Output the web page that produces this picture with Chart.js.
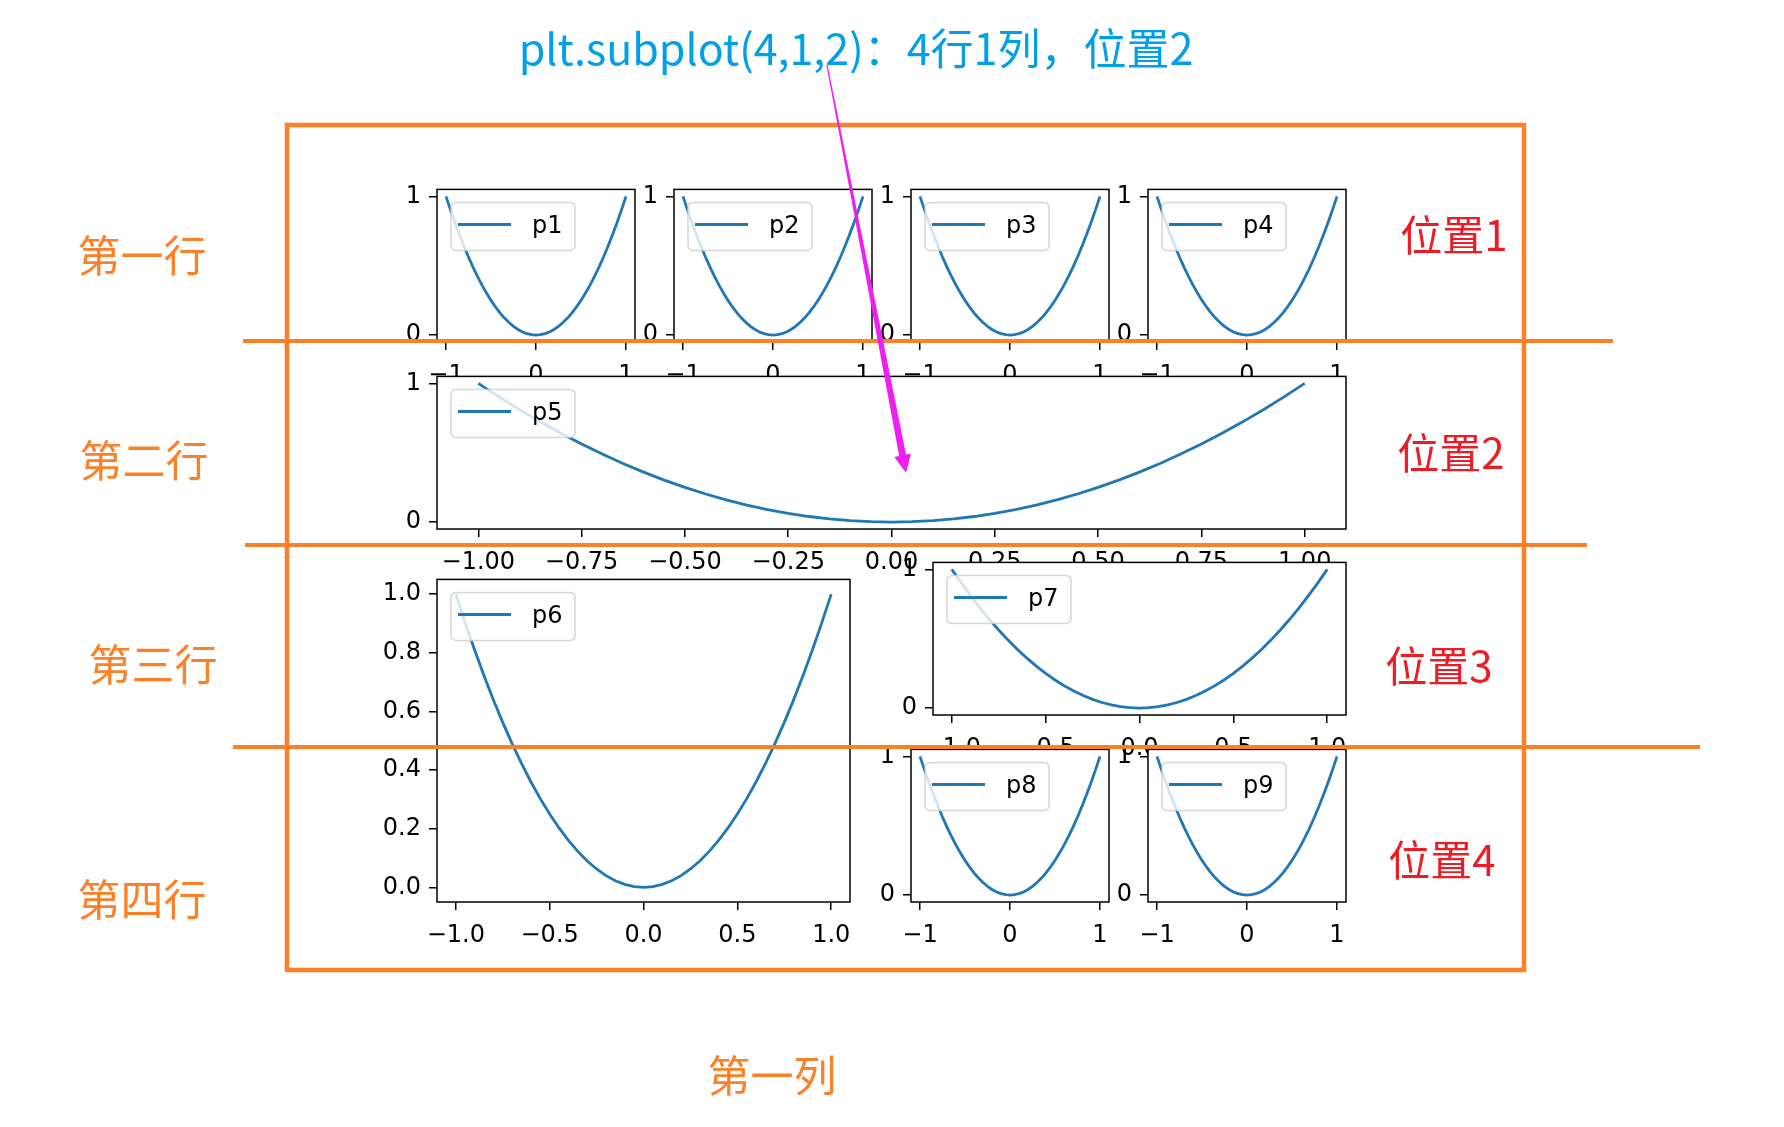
<!DOCTYPE html>
<html>
<head>
<meta charset="utf-8">
<script src="https://cdn.jsdelivr.net/npm/chart.js@4.4.1/dist/chart.umd.min.js"></script>
<style>
  html, body { margin: 0; padding: 0; background: #fff; }
  #page { position: relative; width: 1784px; height: 1127px; overflow: hidden; background: #fff; }
  #page canvas { position: absolute; }
  .note { position: absolute; white-space: nowrap; line-height: 1; font-family: "Noto Sans CJK SC", sans-serif; transform: translate(-50%, -50%); }
  #marks { position: absolute; left: 0; top: 0; }
</style>
</head>
<body>
<div id="page">
  <div id="panels"></div>
  <svg id="marks" width="1784" height="1127">
    <rect x="287" y="125" width="1237" height="845" fill="none" stroke="#fd7f28" stroke-width="4.5"/>
    <line x1="243" y1="341" x2="1613" y2="341" stroke="#fd7f28" stroke-width="4"/>
    <line x1="245" y1="545" x2="1587" y2="545" stroke="#fd7f28" stroke-width="4"/>
    <line x1="233" y1="747" x2="1700" y2="747" stroke="#fd7f28" stroke-width="4"/>
    <polygon fill="#f01ef0" points="827.6,64.9 906.0,454.6 910.9,453.7 906,473 894.3,456.9 899.2,456.0 826.4,65.1"/>
  </svg>
  <div class="note" style="left:856px;top:46px;font-size:43px;color:#00a0e9;">plt.subplot(4,1,2)：4行1列，位置2</div>
  <div class="note" style="left:142px;top:253px;font-size:43px;color:#fd7f28;">第一行</div>
  <div class="note" style="left:144px;top:458px;font-size:43px;color:#fd7f28;">第二行</div>
  <div class="note" style="left:153px;top:662px;font-size:43px;color:#fd7f28;">第三行</div>
  <div class="note" style="left:142px;top:897px;font-size:43px;color:#fd7f28;">第四行</div>
  <div class="note" style="left:772px;top:1073px;font-size:43px;color:#fd7f28;">第一列</div>
  <div class="note" style="left:1454px;top:233px;font-size:42px;color:#ed1c24;">位置1</div>
  <div class="note" style="left:1451px;top:451px;font-size:42px;color:#ed1c24;">位置2</div>
  <div class="note" style="left:1439px;top:664px;font-size:42px;color:#ed1c24;">位置3</div>
  <div class="note" style="left:1442px;top:858px;font-size:42px;color:#ed1c24;">位置4</div>
</div>
<script>
// same curve in every panel: y = x^2 sampled on [-1, 1]
const xValues = [-1.0, -0.95, -0.9, -0.85, -0.8, -0.75, -0.7, -0.65, -0.6, -0.55, -0.5,
  -0.45, -0.4, -0.35, -0.3, -0.25, -0.2, -0.15, -0.1, -0.05, 0.0,
  0.05, 0.1, 0.15, 0.2, 0.25, 0.3, 0.35, 0.4, 0.45, 0.5,
  0.55, 0.6, 0.65, 0.7, 0.75, 0.8, 0.85, 0.9, 0.95, 1.0];
const yValues = [1.0, 0.9025, 0.81, 0.7225, 0.64, 0.5625, 0.49, 0.4225, 0.36, 0.3025, 0.25,
  0.2025, 0.16, 0.1225, 0.09, 0.0625, 0.04, 0.0225, 0.01, 0.0025, 0.0,
  0.0025, 0.01, 0.0225, 0.04, 0.0625, 0.09, 0.1225, 0.16, 0.2025, 0.25,
  0.3025, 0.36, 0.4225, 0.49, 0.5625, 0.64, 0.7225, 0.81, 0.9025, 1.0];
const seriesLabels = ['p1', 'p2', 'p3', 'p4', 'p5', 'p6', 'p7', 'p8', 'p9'];

// tick values and labels
const smallTicks = [-1, 0, 1];
const smallTickLabels = ['\u22121', '0', '1'];
const unitTicks = [0, 1];
const unitTickLabels = ['0', '1'];
const quarterTicks = [-1, -0.75, -0.5, -0.25, 0, 0.25, 0.5, 0.75, 1];
const quarterTickLabels = ['\u22121.00', '\u22120.75', '\u22120.50', '\u22120.25', '0.00', '0.25', '0.50', '0.75', '1.00'];
const halfTicks = [-1, -0.5, 0, 0.5, 1];
const halfTickLabels = ['\u22121.0', '\u22120.5', '0.0', '0.5', '1.0'];
const fifthTicks = [0, 0.2, 0.4, 0.6, 0.8, 1.0];
const fifthTickLabels = ['0.0', '0.2', '0.4', '0.6', '0.8', '1.0'];

// figure area of the subplots, matplotlib-like spacing (0.2)
const FIG = { l: 437, r: 1346, t: 187, b: 902 };
function cell(rows, cols, row, col) {
  const w = (FIG.r - FIG.l) / (cols + (cols - 1) * 0.2);
  const h = (FIG.b - FIG.t) / (rows + (rows - 1) * 0.2);
  const l = FIG.l + col * w * 1.2, t = FIG.t + row * h * 1.2;
  return { l, t, r: l + w, b: t + h };
}

const panels = [
  { box: cell(4, 4, 0, 0), xt: smallTicks, xl: smallTickLabels, yt: unitTicks, yl: unitTickLabels },
  { box: cell(4, 4, 0, 1), xt: smallTicks, xl: smallTickLabels, yt: unitTicks, yl: unitTickLabels },
  { box: cell(4, 4, 0, 2), xt: smallTicks, xl: smallTickLabels, yt: unitTicks, yl: unitTickLabels },
  { box: cell(4, 4, 0, 3), xt: smallTicks, xl: smallTickLabels, yt: unitTicks, yl: unitTickLabels },
  { box: cell(4, 1, 1, 0), xt: quarterTicks, xl: quarterTickLabels, yt: unitTicks, yl: unitTickLabels },
  { box: cell(2, 2, 1, 0), xt: halfTicks, xl: halfTickLabels, yt: fifthTicks, yl: fifthTickLabels },
  { box: cell(4, 2, 2, 1), xt: halfTicks, xl: halfTickLabels, yt: unitTicks, yl: unitTickLabels },
  { box: cell(4, 4, 3, 2), xt: smallTicks, xl: smallTickLabels, yt: unitTicks, yl: unitTickLabels },
  { box: cell(4, 4, 3, 3), xt: smallTicks, xl: smallTickLabels, yt: unitTicks, yl: unitTickLabels }
];

const AX_W = 100, AX_H = 60, PAD_T = 20, PAD_R = 40;
const tickFont = { family: 'DejaVu Sans', size: 24 };

// white axes patch, black frame, and an mpl-style legend inside the axes
const mplAxes = {
  id: 'mplAxes',
  beforeDraw(chart) {
    const { ctx, chartArea: a } = chart;
    ctx.save();
    ctx.fillStyle = '#fff';
    ctx.fillRect(a.left, a.top, a.right - a.left, a.bottom - a.top);
    ctx.restore();
  },
  afterDatasetsDraw(chart) {
    const { ctx, chartArea: a } = chart;
    const ds = chart.data.datasets[0];
    ctx.save();
    ctx.strokeStyle = '#000';
    ctx.lineWidth = 1.5;
    ctx.strokeRect(a.left, a.top, a.right - a.left, a.bottom - a.top);

    ctx.beginPath();
    ctx.roundRect(a.left + 14, a.top + 13, 124, 48, 5);
    ctx.fillStyle = 'rgba(255,255,255,0.8)';
    ctx.fill();
    ctx.strokeStyle = 'rgba(204,204,204,0.8)';
    ctx.lineWidth = 1.5;
    ctx.stroke();

    ctx.beginPath();
    ctx.moveTo(a.left + 21, a.top + 35);
    ctx.lineTo(a.left + 74, a.top + 35);
    ctx.strokeStyle = ds.borderColor;
    ctx.lineWidth = 3;
    ctx.stroke();

    ctx.fillStyle = '#000';
    ctx.font = '24px "DejaVu Sans"';
    ctx.textBaseline = 'alphabetic';
    ctx.fillText(ds.label, a.left + 95, a.top + 44);
    ctx.restore();
  }
};

function axisOpts(ticks, labels, min, max, isX) {
  return {
    type: 'linear', min, max,
    afterFit: s => { if (isX) s.height = AX_H; else s.width = AX_W; },
    afterBuildTicks: s => { s.ticks = ticks.map(v => ({ value: v })); },
    ticks: { callback: (v, i) => labels[i], font: tickFont, color: '#000', padding: isX ? 11 : 8, maxRotation: 0, autoSkip: false },
    grid: { display: true, drawOnChartArea: false, drawTicks: true, tickLength: 8, color: '#000', lineWidth: 1.5 },
    border: { display: false }
  };
}

const holder = document.getElementById('panels');
panels.forEach((p, k) => {
  const L = Math.round(p.box.l), T = Math.round(p.box.t);
  const R = Math.round(p.box.r), B = Math.round(p.box.b);
  const c = document.createElement('canvas');
  c.width = R - L + AX_W + PAD_R;
  c.height = B - T + PAD_T + AX_H;
  c.style.left = (L - AX_W) + 'px';
  c.style.top = (T - PAD_T) + 'px';
  c.style.width = c.width + 'px';
  c.style.height = c.height + 'px';
  holder.appendChild(c);

  new Chart(c.getContext('2d'), {
    type: 'line',
    data: {
      datasets: [{
        label: seriesLabels[k],
        data: xValues.map((x, i) => ({ x, y: yValues[i] })),
        borderColor: '#1f77b4', borderWidth: 2.8, pointRadius: 0, fill: false, tension: 0
      }]
    },
    options: {
      responsive: false, animation: false, events: [],
      layout: { padding: { left: 0, top: PAD_T, right: PAD_R, bottom: 0 } },
      plugins: { legend: { display: false }, tooltip: { enabled: false } },
      scales: {
        x: axisOpts(p.xt, p.xl, -1.1, 1.1, true),
        y: axisOpts(p.yt, p.yl, -0.05, 1.05, false)
      }
    },
    plugins: [mplAxes]
  });
});
</script>
</body>
</html>
